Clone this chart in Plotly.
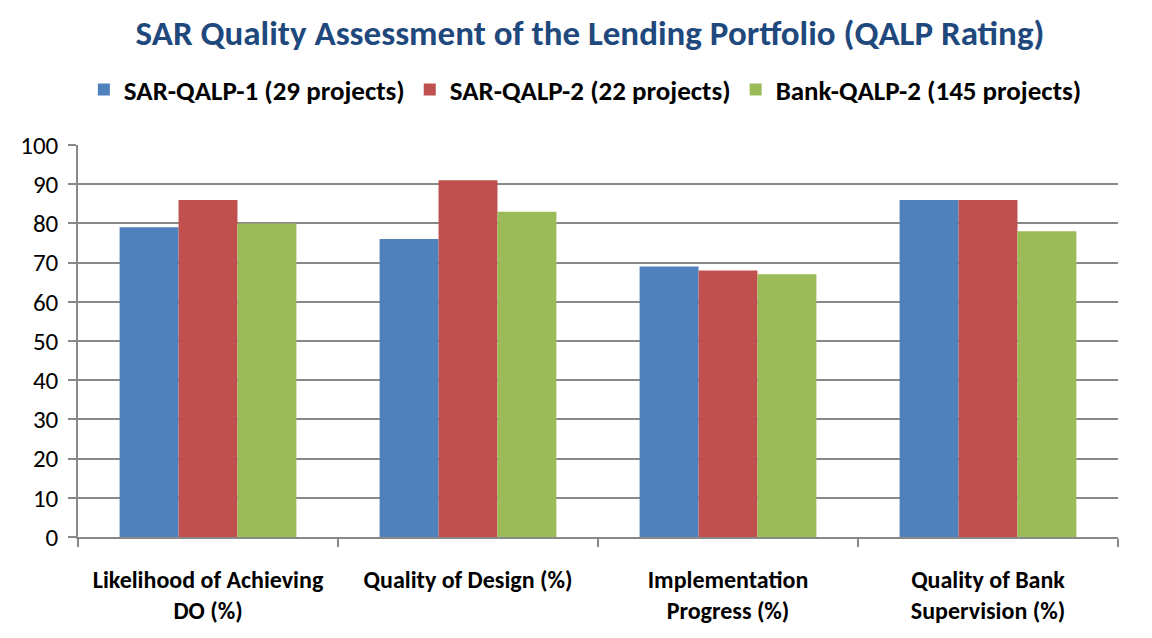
import plotly.graph_objects as go

categories = ["Likelihood of Achieving<br>DO (%)", "Quality of Design (%)",
              "Implementation<br>Progress (%)", "Quality of Bank<br>Supervision (%)"]
series_names = ["SAR-QALP-1 (29 projects)", "SAR-QALP-2 (22 projects)", "Bank-QALP-2 (145 projects)"]
sar_qalp_1 = [79, 76, 69, 86]
sar_qalp_2 = [86, 91, 68, 86]
bank_qalp_2 = [80, 83, 67, 78]
colors = ["#4F81BD", "#C0504D", "#9BBB59"]

FONT = "Carlito, Calibri, 'Liberation Sans Narrow', 'Open Sans', Arial"

fig = go.Figure()
for name, vals, c in zip(series_names, [sar_qalp_1, sar_qalp_2, bank_qalp_2], colors):
    fig.add_trace(go.Bar(x=categories, y=vals, name="<b>" + name + "</b>", marker_color=c,
                         marker_line_width=0))

W, H = 1152, 638
fig.update_layout(
    width=W, height=H,
    margin=dict(l=70, r=42, t=137, b=109, autoexpand=False),
    paper_bgcolor="white", plot_bgcolor="white",
    barmode="group", bargap=0.32, bargroupgap=0,
    font=dict(family=FONT, color="black", size=22),
    title=dict(text="<b>SAR Quality Assessment of the Lending Portfolio (QALP Rating)</b>",
               x=(590 - 8) / W, xanchor="center", yref="container", y=1 - 25 / H, yanchor="middle",
               font=dict(size=35, color="#1F497D", family=FONT)),
    legend=dict(orientation="h", x=(570 - 8) / W, xanchor="center", yref="container",
                y=1 - 82 / H, yanchor="middle",
                font=dict(size=27, family=FONT), itemwidth=30, traceorder="normal"),
    yaxis=dict(range=[0, 100], dtick=10, showgrid=True, gridcolor="#888888", gridwidth=1.5,
               showline=True, linecolor="#888888", linewidth=1.5,
               ticks="outside", ticklen=8, tickcolor="#888888", tickwidth=1.5,
               tickfont=dict(size=25), zeroline=False, fixedrange=True, automargin=False,
               ticklabelstandoff=5),
    xaxis=dict(showline=True, linecolor="#888888", linewidth=1.5,
               ticks="outside", ticklen=8, tickcolor="#888888", tickwidth=1.5,
               tickson="boundaries", tickfont=dict(size=24), automargin=False,
               tickprefix="<b>", ticksuffix="</b>",
               ticklabelstandoff=20),
)

fig.write_html("out.html")
